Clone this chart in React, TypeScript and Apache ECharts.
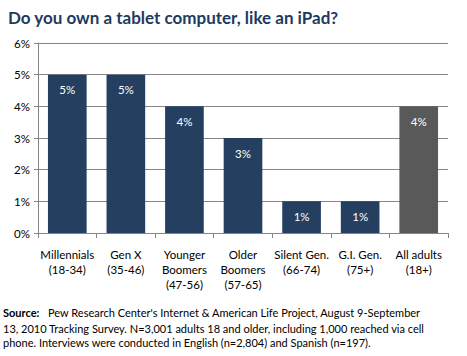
import React, { useEffect, useRef } from "react";
import * as echarts from "echarts";

const categories = [
  "Millennials\n(18-34)",
  "Gen X\n(35-46)",
  "Younger\nBoomers\n(47-56)",
  "Older\nBoomers\n(57-65)",
  "Silent Gen.\n(66-74)",
  "G.I. Gen.\n(75+)",
  "All adults\n(18+)",
];
const values = [5, 5, 4, 3, 1, 1, 4];
const barColors = ["#243F60", "#243F60", "#243F60", "#243F60", "#243F60", "#243F60", "#595959"];
const titleText = "Do you own a tablet computer, like an iPad?";
const sourceLabel = "Source:";
const sourceLines = [
  "Pew Research Center's Internet & American Life Project, August 9-September",
  "13, 2010 Tracking Survey. N=3,001 adults 18 and older, including 1,000 reached via cell",
  "phone. Interviews were conducted in English (n=2,804) and Spanish (n=197).",
];

const FONT = "Lato";

export default function App() {
  const ref = useRef<HTMLDivElement>(null);
  useEffect(() => {
    if (!ref.current) return;
    const chart = echarts.init(ref.current, undefined, { renderer: "svg" });
    chart.setOption({
      animation: false,
      backgroundColor: "#ffffff",
      title: {
        text: titleText,
        left: 3,
        top: 4,
        textStyle: { fontFamily: FONT, fontSize: 17, fontWeight: "bold", color: "#1F3A5F" },
      },
      grid: { left: 38, right: 19, top: 43, bottom: 123, containLabel: false },
      xAxis: {
        type: "category",
        data: categories,
        axisLine: { show: true, lineStyle: { color: "#868686" } },
        axisTick: { show: true, alignWithLabel: false, length: 5, lineStyle: { color: "#868686" } },
        axisLabel: {
          interval: 0,
          fontFamily: FONT,
          fontSize: 11.5,
          color: "#000",
          lineHeight: 15,
          margin: 14,
        },
      },
      yAxis: {
        type: "value",
        min: 0,
        max: 6,
        interval: 1,
        axisLine: { show: true, lineStyle: { color: "#868686" } },
        axisTick: { show: true, length: 4, lineStyle: { color: "#868686" } },
        splitLine: { show: true, lineStyle: { color: "#868686", width: 1 } },
        axisLabel: {
          formatter: "{value}%",
          fontFamily: FONT,
          fontSize: 11.5,
          color: "#000",
          margin: 8,
        },
      },
      series: [
        {
          type: "bar",
          data: values.map((v, i) => ({ value: v, itemStyle: { color: barColors[i] } })),
          barCategoryGap: "34%",
          label: {
            show: true,
            position: "insideTop",
            distance: 9,
            formatter: "{c}%",
            color: "#ffffff",
            fontFamily: FONT,
            fontSize: 11.5,
          },
        },
      ],
      graphic: [
        {
          type: "text",
          x: 3,
          y: 307,
          style: {
            text: sourceLabel,
            fontFamily: FONT,
            fontSize: 11,
            fontWeight: "bold",
            fill: "#000",
          },
        },
        {
          type: "text",
          x: 48,
          y: 307,
          style: {
            text: sourceLines[0],
            fontFamily: FONT,
            fontSize: 11,
            fill: "#000",
          },
        },
        {
          type: "text",
          x: 3,
          y: 321,
          style: {
            text: sourceLines[1] + "\n" + sourceLines[2],
            fontFamily: FONT,
            fontSize: 11,
            lineHeight: 14,
            fill: "#000",
          },
        },
      ],
    });
    return () => chart.dispose();
  }, []);
  return <div ref={ref} style={{ position: "absolute", left: 0, top: 0, width: 467, height: 356 }} />;
}
